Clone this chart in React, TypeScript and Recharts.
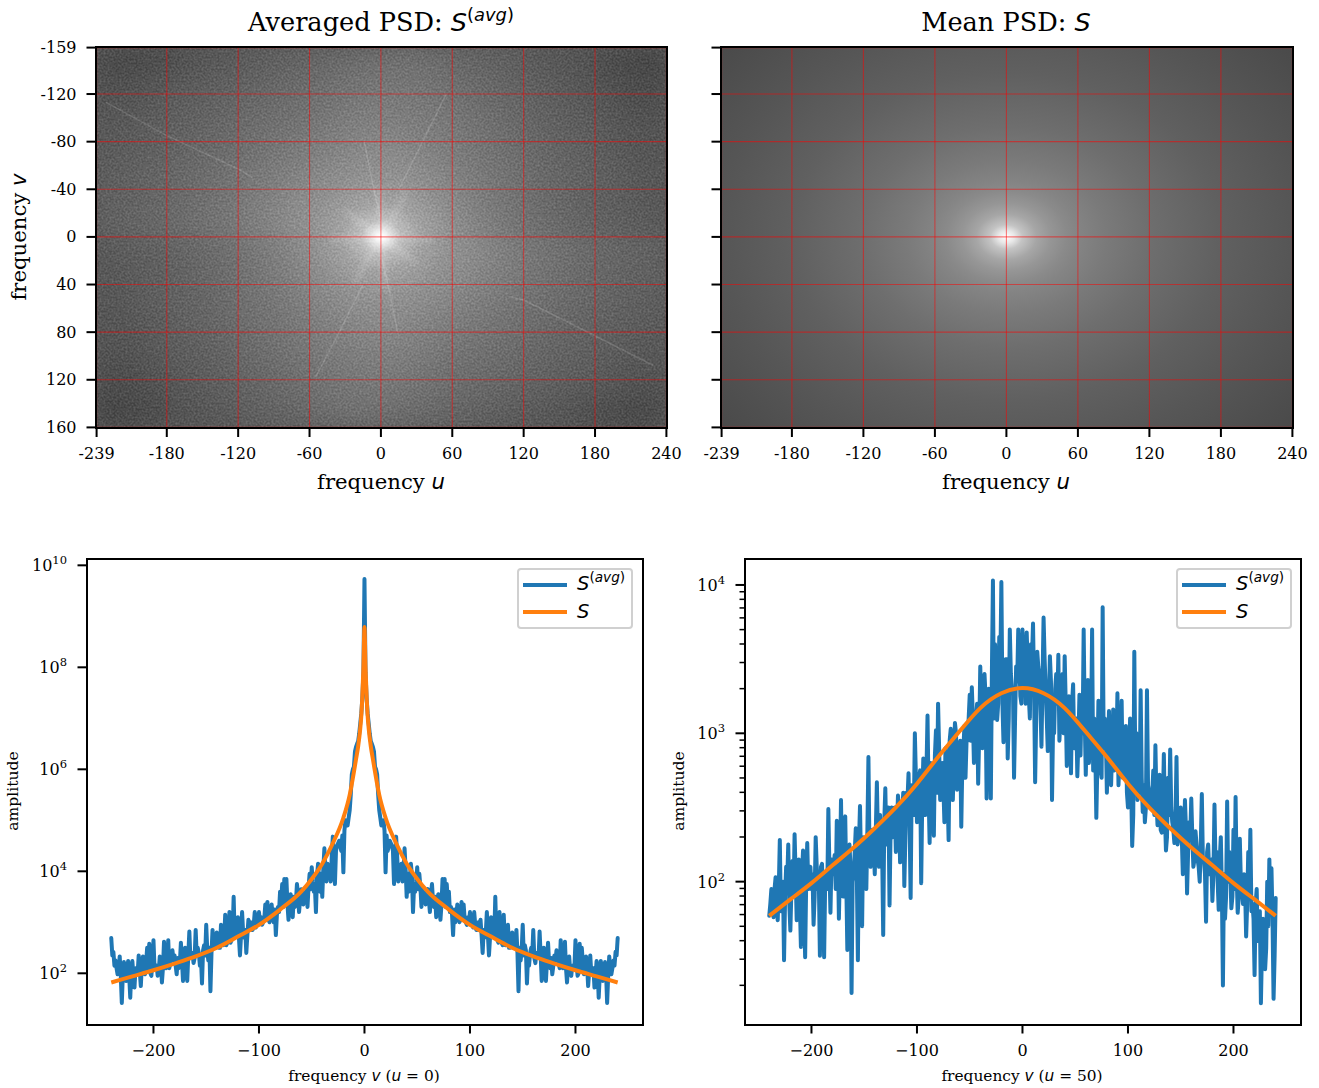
import React from 'react';
import {
  Legend,
  Line,
  LineChart,
  ReferenceArea,
  ReferenceLine,
  Scatter,
  ScatterChart,
  XAxis,
  YAxis,
} from 'recharts';

const SERIF = '"DejaVu Serif", serif';
const SANS = '"DejaVu Sans", sans-serif';
const BLUE = '#1f77b4';
const ORANGE = '#ff7f0e';

// top row: axis ticks of the two spectrum images
const uTicks = [-239, -180, -120, -60, 0, 60, 120, 180, 240];
const vTicks = [-159, -120, -80, -40, 0, 40, 80, 120, 160];

// coarse grey levels of the averaged PSD, upper half (the lower half is the point reflection)
const heatU = [-230, -210, -190, -170, -150, -130, -110, -90, -70, -50, -30, -10, 10, 30, 50, 70, 90, 110, 130, 150, 170, 190, 210, 230];
const heatV = [-150, -130, -110, -90, -70, -50, -30, -10];
const heatGrey = [
  [72, 70, 74, 78, 84, 88, 92, 96, 100, 104, 108, 112, 114, 114, 110, 104, 100, 96, 90, 86, 82, 76, 70, 66],
  [78, 80, 84, 88, 92, 96, 100, 104, 108, 112, 116, 120, 122, 120, 116, 110, 106, 100, 96, 90, 86, 80, 76, 72],
  [84, 86, 90, 94, 98, 102, 106, 110, 114, 118, 124, 128, 128, 126, 122, 116, 110, 106, 100, 94, 90, 86, 80, 78],
  [88, 90, 94, 98, 102, 106, 112, 116, 120, 126, 132, 136, 136, 132, 128, 122, 116, 110, 104, 98, 94, 90, 84, 82],
  [92, 94, 98, 102, 106, 112, 116, 122, 128, 134, 140, 146, 146, 140, 134, 126, 120, 114, 108, 102, 98, 92, 88, 84],
  [94, 98, 102, 106, 112, 116, 122, 130, 136, 144, 150, 154, 154, 150, 142, 132, 124, 118, 110, 104, 100, 96, 90, 86],
  [98, 100, 104, 108, 114, 120, 128, 136, 146, 152, 160, 166, 166, 160, 150, 138, 128, 120, 112, 106, 100, 96, 92, 88],
  [100, 102, 106, 110, 116, 122, 130, 140, 150, 158, 168, 176, 176, 168, 158, 144, 132, 122, 114, 108, 102, 98, 94, 90],
];

// faint streaks visible in the averaged PSD, as [u, v] pairs
const streaks = [
  [[-231, -113], [-180, -85], [-120, -57], [-108, -50]],
  [[108, 50], [120, 53], [180, 83], [229, 108]],
  [[55, -120], [35, -80], [15, -40]],
  [[-55, 118], [-35, 80], [-15, 40]],
  [[-14, -80], [-6, -40], [1, -10]],
  [[14, 80], [6, 40], [-1, 10]],
];
// brighter short rays around the centre
const rays = [
  [[-2, -42], [0, 0], [4, 46]],
  [[-42, 2], [0, 0], [44, 3]],
  [[22, -38], [0, 0], [-22, 38]],
  [[-30, -22], [0, 0], [30, 22]],
];

// radial grey profile of the mean PSD (and the small glow of the averaged one)
const meanRadius = [0, 0.02, 0.04, 0.075, 0.11, 0.15, 0.18, 0.25, 0.36, 0.535, 0.71, 0.94, 1];
const meanGrey = [255, 232, 196, 166, 150, 138, 132, 122, 110, 96, 86, 74, 72];
const meanCentre = [{ u: 0, v: 0 }];
const glowRadius = [0, 0.06, 0.14, 0.28, 0.56, 1];
const glowOpacity = [1, 0.9, 0.65, 0.28, 0.06, 0];

// bottom left, u = 0: log10 amplitude for v = -240, -238, ... -14
const rowAvgEven = [
  2.69, 2.42, 2.25, 1.98, 2.33, 1.42, 2.22, 1.85, 2.24, 1.52,
  2.24, 1.72, 2.05, 2.35, 1.75, 2.33, 1.98, 2.5, 2.58, 1.95,
  2.65, 2.1, 1.95, 2.33, 1.82, 2.62, 2.1, 2.65, 2.2, 2.45,
  2.35, 1.98, 2.1, 2.6, 1.85, 2.5, 1.85, 2.82, 2.4, 2.2,
  2.85, 2.5, 2.15, 1.8, 2.55, 2.95, 2.25, 1.65, 2.85, 2.5,
  2.8, 2.5, 2.95, 2.55, 3.15, 2.6, 3.2, 2.65, 3.5, 2.8,
  3.1, 2.35, 3.2, 2.7, 2.4, 3.05, 3.0, 2.85, 3.2, 2.95,
  3.2, 3.1, 3.0, 3.35, 3.4, 3.0, 3.35, 3.0, 2.75, 3.3,
  3.6, 3.75, 3.85, 3.85, 3.05, 3.55, 3.1, 3.3, 3.75, 3.2,
  3.65, 3.35, 3.5, 3.3, 3.95, 4.08, 3.6, 3.2, 4.15, 3.6,
  3.5, 4.45, 3.8, 4.0, 3.8, 4.68, 3.75, 4.5, 4.6, 4.4,
  3.98, 5.0, 4.9, 5.2,
];
// same slice at the odd frequencies v = -239, -237, ... -15
const rowAvgOdd = [
  2.35, 2.15, 2.1, 2.1, 1.95, 2.0, 1.95, 2.05, 1.95, 2.05,
  1.95, 2.1, 2.0, 2.05, 2.15, 2.05, 2.2, 2.1, 2.0, 2.2,
  2.1, 2.15, 2.05, 2.2, 2.1, 2.15, 2.2, 2.1, 2.3, 2.25,
  2.15, 2.3, 2.2, 2.25, 2.3, 2.15, 2.35, 2.3, 2.4, 2.3,
  2.35, 2.4, 2.3, 2.45, 2.35, 2.45, 2.5, 2.4, 2.55, 2.5,
  2.55, 2.5, 2.6, 2.65, 2.55, 2.7, 2.6, 2.75, 2.7, 2.8,
  2.7, 2.75, 2.8, 2.85, 2.75, 2.9, 2.85, 2.95, 2.9, 3.0,
  3.0, 2.95, 3.05, 3.1, 3.05, 3.15, 3.1, 3.25, 3.15, 3.2,
  3.4, 3.3, 3.4, 3.35, 3.3, 3.45, 3.5, 3.4, 3.55, 3.45,
  3.6, 3.5, 3.65, 3.7, 3.65, 3.8, 3.7, 3.9, 3.85, 3.95,
  4.05, 4.0, 4.15, 4.1, 4.3, 4.25, 4.4, 4.55, 4.5, 4.7,
  4.8, 4.95, 5.05,
];
const rowInnerFreq = [-13, -12, -11, -10, -9, -8, -7, -6, -5, -4, -3, -2, -1, 0];
const rowAvgInner = [5.5, 5.9, 6.0, 6.05, 6.35, 6.44, 6.5, 6.55, 6.7, 6.9, 7.1, 7.4, 7.9, 9.73];
const rowMeanFreq = [-240, -220, -200, -180, -160, -140, -120, -100, -80, -60, -50, -40, -30, -20, -14, -10, -8, -6, -4, -3, -2, -1, 0];
const rowMean = [1.82, 1.94, 2.06, 2.19, 2.33, 2.5, 2.72, 2.95, 3.25, 3.6, 3.85, 4.15, 4.55, 5.05, 5.5, 5.95, 6.2, 6.45, 6.8, 7.05, 7.45, 8.0, 8.79];

// bottom right, u = 50: log10 amplitude for v = -240, -238, ... 240
const sliceAvgEven = [
  1.77, 1.95, 1.76, 2.03, 1.74, 2.28, 1.8, 1.47, 2.1, 2.25,
  1.67, 2.14, 2.32, 1.74, 2.15, 1.56, 2.21, 1.49, 2.26, 2.08,
  1.95, 1.71, 2.3, 1.95, 1.5, 2.12, 1.49, 2.05, 2.49, 1.79,
  2.05, 2.18, 2.41, 1.75, 2.55, 1.9, 2.44, 1.54, 2.25, 1.25,
  2.05, 2.36, 1.47, 2.51, 1.7, 2.25, 1.95, 2.84, 2.1, 2.35,
  2.05, 2.67, 2.1, 2.3, 1.64, 2.63, 2.25, 1.84, 2.5, 2.45,
  2.2, 2.58, 2.13, 2.45, 1.97, 2.6, 2.73, 1.89, 2.55, 3.0,
  2.4, 2.7, 1.99, 2.83, 2.45, 3.12, 2.26, 2.75, 2.31, 3.02,
  3.2, 2.55, 2.8, 2.4, 2.74, 2.28, 3.03, 2.55, 3.07, 2.62,
  2.85, 2.37, 2.9, 2.7, 2.95, 3.26, 3.31, 2.8, 3.1, 2.66,
  3.45, 2.9, 3.4, 2.56, 3.3, 2.56, 4.03, 3.6, 3.09, 3.65,
  4.02, 2.94, 3.5, 2.83, 3.7, 3.3, 2.7, 3.45, 3.7, 3.25,
  3.7, 3.6, 3.68, 3.25, 3.6, 3.74, 2.67, 3.55, 3.4, 2.91,
  3.78, 3.3, 2.88, 3.52, 2.55, 3.0, 3.4, 3.53, 3.1, 3.4,
  3.52, 2.78, 3.25, 2.73, 3.33, 3.05, 2.71, 3.26, 3.2, 3.7,
  2.72, 3.36, 3.0, 3.7, 3.1, 2.43, 3.22, 2.76, 3.85, 3.1,
  2.6, 3.15, 2.65, 3.16, 2.8, 3.27, 2.85, 3.22, 2.7, 3.05,
  2.5, 3.1, 2.24, 3.55, 3.0, 2.85, 3.29, 2.47, 2.4, 3.29,
  2.6, 2.5, 2.75, 2.92, 2.38, 2.72, 2.33, 2.86, 2.21, 2.7,
  2.89, 2.4, 2.26, 2.84, 2.3, 2.5, 2.05, 2.55, 1.92, 2.4,
  2.56, 2.1, 2.34, 2.15, 2.0, 2.59, 2.15, 1.73, 2.25, 2.1,
  1.87, 2.52, 2.2, 1.81, 2.3, 1.3, 1.75, 2.54, 2.2, 1.82,
  2.35, 2.57, 1.79, 2.29, 1.95, 2.05, 1.63, 2.2, 2.35, 1.85,
  1.37, 1.95, 1.7, 1.18, 1.75, 1.41, 2.0, 2.15, 2.09, 1.21,
  1.89,
];
// same slice at the odd frequencies v = -239, -237, ... 239
const sliceAvgOdd = [
  1.85, 1.9, 1.95, 1.82, 1.95, 1.8, 2.0, 1.9, 2.0, 1.85,
  1.95, 1.9, 2.05, 1.95, 1.85, 2.05, 1.85, 2.0, 1.95, 2.1,
  2.05, 1.9, 2.1, 2.0, 2.1, 1.85, 2.0, 1.95, 2.1, 2.15,
  2.1, 1.95, 2.25, 2.1, 2.0, 2.25, 2.0, 2.2, 2.1, 2.0,
  2.2, 2.05, 2.25, 2.1, 2.3, 2.15, 2.35, 2.2, 2.3, 2.25,
  2.35, 2.3, 2.45, 2.2, 2.4, 2.25, 2.5, 2.35, 2.3, 2.5,
  2.35, 2.5, 2.4, 2.6, 2.3, 2.55, 2.4, 2.65, 2.45, 2.7,
  2.5, 2.75, 2.55, 2.6, 2.75, 2.6, 2.8, 2.55, 2.85, 2.6,
  2.9, 2.7, 2.65, 2.9, 2.6, 2.95, 2.7, 2.85, 3.0, 2.75,
  2.95, 2.8, 3.05, 2.95, 3.1, 2.95, 3.1, 3.0, 3.2, 3.0,
  3.15, 3.05, 3.25, 3.0, 3.2, 3.4, 3.1, 3.35, 3.2, 3.45,
  3.2, 3.35, 3.5, 3.1, 3.4, 3.3, 3.1, 3.35, 3.5, 3.2,
  3.45, 3.2, 3.45, 3.1, 3.5, 3.3, 3.1, 3.45, 3.2, 3.35,
  3.5, 3.1, 3.2, 3.35, 3.05, 3.3, 3.2, 2.95, 3.25, 3.0,
  3.2, 3.0, 3.05, 3.2, 2.9, 3.1, 2.95, 2.85, 3.0, 3.1,
  3.05, 2.8, 3.0, 2.75, 2.9, 2.8, 2.95, 2.7, 2.9, 3.0,
  2.85, 2.7, 2.9, 2.75, 2.85, 2.65, 2.8, 2.7, 2.75, 2.6,
  2.7, 2.65, 2.45, 2.75, 2.55, 2.6, 2.7, 2.65, 2.5, 2.65,
  2.5, 2.6, 2.45, 2.55, 2.5, 2.35, 2.5, 2.45, 2.3, 2.45,
  2.5, 2.35, 2.4, 2.25, 2.4, 2.3, 2.25, 2.35, 2.2, 2.3,
  2.3, 2.15, 2.25, 2.1, 2.25, 2.15, 2.05, 2.2, 2.05, 2.15,
  2.05, 2.1, 2.0, 2.15, 1.95, 2.05, 1.9, 2.0, 2.05, 1.9,
  1.95, 2.05, 1.9, 2.0, 1.85, 1.95, 1.85, 1.9, 1.8, 1.75,
  1.85, 1.6, 1.8, 1.55, 1.7, 1.55, 1.7, 1.85, 1.75, 1.5,
];
const sliceMeanFreq = [-240, -220, -200, -180, -160, -140, -120, -100, -80, -60, -40, -20, 0, 20, 40, 60, 80, 100, 120, 140, 160, 180, 200, 220, 240];
const sliceMean = [1.77, 1.88, 1.99, 2.11, 2.23, 2.36, 2.5, 2.66, 2.84, 3.01, 3.17, 3.27, 3.305, 3.27, 3.17, 3.01, 2.84, 2.66, 2.5, 2.36, 2.23, 2.11, 1.99, 1.88, 1.77];

const freqTicks = [-200, -100, 0, 100, 200];
const rowAmpTicks = [1e2, 1e4, 1e6, 1e8, 1e10];
const sliceAmpTicks = [
  20, 30, 40, 50, 60, 70, 80, 90, 100,
  200, 300, 400, 500, 600, 700, 800, 900, 1000,
  2000, 3000, 4000, 5000, 6000, 7000, 8000, 9000, 10000,
];

const toPoints = (freq: number[], logAmp: number[]) =>
  freq.map((v, i) => ({ v, amp: 10 ** logAmp[i] }));

// evens and odds back into one run starting at -240, one unit apart
const interleave = (even: number[], odd: number[]) =>
  even.flatMap((value, i) => (i < odd.length ? [value, odd[i]] : [value]));

const rowOuter = interleave(rowAvgEven, rowAvgOdd);
const halfFreq = [...rowOuter.map((_, i) => -240 + i), ...rowInnerFreq];
const halfAvg = [...rowOuter, ...rowAvgInner];
const rowAvgPoints = toPoints(
  [...halfFreq, ...halfFreq.slice(0, -1).reverse().map((v) => -v)],
  [...halfAvg, ...halfAvg.slice(0, -1).reverse()],
);
const rowMeanPoints = toPoints(
  [...rowMeanFreq, ...rowMeanFreq.slice(0, -1).reverse().map((v) => -v)],
  [...rowMean, ...rowMean.slice(0, -1).reverse()],
);
const sliceAvg = interleave(sliceAvgEven, sliceAvgOdd);
const sliceAvgPoints = toPoints(sliceAvg.map((_, i) => -240 + i), sliceAvg);
const sliceMeanPoints = toPoints(sliceMeanFreq, sliceMean);

const heatCells = heatGrey.flatMap((row, i) =>
  row.flatMap((grey, j) => [
    { u: heatU[j], v: heatV[i], grey },
    { u: -heatU[j], v: -heatV[i], grey },
  ]),
);

const AXIS_W = 70;
const TOP_PAD = 10;
const AXIS_H = 44;
const TICK_FONT = 16;

const HeatCell = (props: any) => {
  const { cx, cy, payload } = props;
  const g = payload.grey;
  return <rect x={cx - 13} y={cy - 13} width={26} height={26} fill={`rgb(${g},${g},${g})`} />;
};
const NoMark = () => <g />;

const GrainRect = (props: any) => (
  <rect x={props.x} y={props.y} width={props.width} height={props.height} filter="url(#psdGrain)" />
);

const BottomTick = (props: any) => {
  const { x, y, payload, minus } = props;
  const label = minus ? String(payload.value).replace('-', '\u2212') : String(payload.value);
  return (
    <g>
      <rect x={x - 1} y={y} width={2} height={9} fill="#000" />
      <text x={x} y={y + 31} textAnchor="middle" fontFamily={SERIF} fontSize={TICK_FONT} fill="#000">
        {label}
      </text>
    </g>
  );
};

const LeftTick = (props: any) => {
  const { x, y, payload, hideLabel } = props;
  return (
    <g>
      <rect x={x - 9.5} y={y - 1} width={9.5} height={2} fill="#000" />
      {!hideLabel && (
        <text x={x - 19.5} y={y + 5.5} textAnchor="end" fontFamily={SERIF} fontSize={TICK_FONT} fill="#000">
          {payload.value}
        </text>
      )}
    </g>
  );
};

const AmpTick = (props: any) => {
  const { x, y, payload } = props;
  const exponent = globalThis.Math.log10(payload.value);
  const major = globalThis.Number.isInteger(globalThis.Math.round(exponent * 1e6) / 1e6);
  return (
    <g>
      <rect x={x - (major ? 9.5 : 5.5)} y={y - (major ? 1 : 0.75)} width={major ? 9.5 : 5.5} height={major ? 2 : 1.5} fill="#000" />
      {major && (
        <text x={x - 20} y={y + 6} textAnchor="end" fontFamily={SERIF} fontSize={TICK_FONT} fill="#000">
          10
          <tspan dy={-7} fontSize={11.5}>{globalThis.Math.round(exponent)}</tspan>
        </text>
      )}
    </g>
  );
};

const Frame = ({ left, top, width, height }: any) => (
  <div
    style={{
      position: 'absolute',
      left: left - 1,
      top: top - 1,
      width: width + 2,
      height: height + 2,
      boxSizing: 'border-box',
      border: '2px solid #000',
      pointerEvents: 'none',
      zIndex: 5,
    }}
  />
);

const Caption = ({ x, y, size, rotate, children }: any) => (
  <div
    style={{
      position: 'absolute',
      left: x,
      top: y,
      transform: `translate(-50%, -50%)${rotate ? ' rotate(-90deg)' : ''}`,
      fontFamily: SERIF,
      fontSize: size,
      lineHeight: 1,
      whiteSpace: 'nowrap',
      color: '#000',
    }}
  >
    {children}
  </div>
);

const Math = ({ children }: any) => (
  <span style={{ fontFamily: SANS, fontStyle: 'italic' }}>{children}</span>
);

const SAvg = () => (
  <>
    <Math>S</Math>
    <span style={{ fontFamily: SANS, fontStyle: 'italic', fontSize: '0.7em', position: 'relative', top: '-0.55em' }}>
      <span style={{ fontStyle: 'normal' }}>(</span>avg<span style={{ fontStyle: 'normal' }}>)</span>
    </span>
  </>
);

const SpectrumPanel = ({ left, top, width, height, showLabels, children, defs }: any) => (
  <div style={{ position: 'absolute', left: left - AXIS_W, top: top - TOP_PAD }}>
    <ScatterChart
      width={width + AXIS_W + 20}
      height={height + TOP_PAD + AXIS_H}
      margin={{ top: TOP_PAD, right: 20, bottom: 0, left: 0 }}
    >
      <defs>{defs}</defs>
      <XAxis
        type="number"
        dataKey="u"
        domain={[-239.5, 240.5]}
        ticks={uTicks}
        interval={0}
        height={AXIS_H}
        axisLine={false}
        tickLine={false}
        tickSize={0}
        tickMargin={0}
        tick={<BottomTick />}
      />
      <YAxis
        type="number"
        dataKey="v"
        reversed
        domain={[-159.5, 160.5]}
        ticks={vTicks}
        interval={0}
        width={AXIS_W}
        axisLine={false}
        tickLine={false}
        tickSize={0}
        tickMargin={0}
        tick={<LeftTick hideLabel={!showLabels} />}
      />
      {children}
      {uTicks.map((u) => (
        <ReferenceLine key={`u${u}`} x={u} stroke="#ff0000" strokeOpacity={0.5} strokeWidth={1.1} zIndex={660} />
      ))}
      {vTicks.map((v) => (
        <ReferenceLine key={`v${v}`} y={v} stroke="#ff0000" strokeOpacity={0.5} strokeWidth={1.1} zIndex={660} />
      ))}
    </ScatterChart>
    <Frame left={AXIS_W} top={TOP_PAD} width={width} height={height} />
  </div>
);

const PsdLegend = () => (
  <div
    style={{
      width: 116,
      height: 61,
      boxSizing: 'border-box',
      border: '2px solid #d0d0d0',
      borderRadius: 4,
      background: 'rgba(255,255,255,0.8)',
      position: 'relative',
      fontFamily: SANS,
      fontSize: 19.5,
      color: '#000',
    }}
  >
    <div style={{ position: 'absolute', left: 4, top: 13, width: 44, height: 4, background: BLUE }} />
    <div style={{ position: 'absolute', left: 4, top: 40, width: 44, height: 4, background: ORANGE }} />
    <div style={{ position: 'absolute', left: 58, top: -1, lineHeight: '30px', whiteSpace: 'nowrap' }}>
      <SAvg />
    </div>
    <div style={{ position: 'absolute', left: 58, top: 27, lineHeight: '30px' }}>
      <Math>S</Math>
    </div>
  </div>
);

const AmplitudePanel = ({ left, width, logDomain, ticks, avg, mean, meanCurve, legendLeft }: any) => {
  const top = 559;
  const height = 465.5;
  return (
    <div style={{ position: 'absolute', left: left - AXIS_W, top: top - TOP_PAD }}>
      <LineChart
        width={width + AXIS_W + 16}
        height={height + TOP_PAD + AXIS_H}
        margin={{ top: TOP_PAD, right: 16, bottom: 0, left: 0 }}
      >
        <XAxis
          type="number"
          dataKey="v"
          domain={[-263, 264]}
          ticks={freqTicks}
          interval={0}
          height={AXIS_H}
          allowDuplicatedCategory={false}
          axisLine={false}
          tickLine={false}
          tickSize={0}
          tickMargin={0}
          tick={<BottomTick minus />}
        />
        <YAxis
          type="number"
          scale="log"
          dataKey="amp"
          domain={[10 ** logDomain[0], 10 ** logDomain[1]]}
          allowDataOverflow
          ticks={ticks}
          interval={0}
          width={AXIS_W}
          axisLine={false}
          tickLine={false}
          tickSize={0}
          tickMargin={0}
          tick={<AmpTick />}
        />
        <Line data={avg} dataKey="amp" stroke={BLUE} strokeWidth={4} dot={false} type="linear" isAnimationActive={false} strokeLinejoin="round" strokeLinecap="round" />
        <Line data={mean} dataKey="amp" stroke={ORANGE} strokeWidth={4} dot={false} type={meanCurve} isAnimationActive={false} />
        <Legend
          layout="horizontal"
          verticalAlign="middle"
          align="center"
          content={<PsdLegend />}
          wrapperStyle={{ position: 'absolute', left: legendLeft, top: 8.5 + TOP_PAD, width: 116 }}
        />
      </LineChart>
      <Frame left={AXIS_W} top={TOP_PAD} width={width} height={height} />
    </div>
  );
};

const App = () => {
  const meanDefs = (
    <radialGradient
      id="meanPsd"
      cx={239.5 / 480}
      cy={159.5 / 320}
      r={0.7}
      gradientTransform="translate(0.499 0.498) scale(1 1.15) translate(-0.499 -0.498)"
    >
      {meanRadius.map((t, i) => (
        <stop key={t} offset={t} stopColor={`rgb(${meanGrey[i]},${meanGrey[i]},${meanGrey[i]})`} />
      ))}
    </radialGradient>
  );
  const avgDefs = (
    <>
      <radialGradient id="avgGlow" cx={0.5} cy={0.5} r={0.5}>
        {glowRadius.map((t, i) => (
          <stop key={t} offset={t} stopColor="#fff" stopOpacity={glowOpacity[i]} />
        ))}
      </radialGradient>
      <filter id="cellBlur" filterUnits="userSpaceOnUse" x={AXIS_W} y={TOP_PAD} width={571} height={381}>
        <feGaussianBlur stdDeviation={11} />
      </filter>
      <filter id="rayBlur" filterUnits="userSpaceOnUse" x={AXIS_W} y={TOP_PAD} width={571} height={381}>
        <feGaussianBlur stdDeviation={2} />
      </filter>
      <filter id="psdGrain" x="0" y="0" width="100%" height="100%" colorInterpolationFilters="sRGB">
        <feTurbulence type="fractalNoise" baseFrequency="0.5" numOctaves="2" seed="7" />
        <feColorMatrix values="1.8 0 0 0 -0.55  1.8 0 0 0 -0.55  1.8 0 0 0 -0.55  0 0 0 0 0.13" />
      </filter>
    </>
  );

  return (
    <div style={{ position: 'absolute', left: 0, top: 0, width: 1319, height: 1088, background: '#fff', overflow: 'hidden' }}>
      <style>{'.heat-cells{filter:url(#cellBlur)} .heat-rays{filter:url(#rayBlur)}'}</style>

      <Caption x={381} y={23} size={25.6}>Averaged PSD: <SAvg /></Caption>
      <Caption x={1006} y={23} size={25.6}>Mean PSD: <Math>S</Math></Caption>

      <SpectrumPanel left={96} top={47} width={571} height={381} showLabels defs={avgDefs}>
        <ReferenceArea x1={-239.5} x2={240.5} y1={-159.5} y2={160.5} fill="#585858" fillOpacity={1} zIndex={610} />
        <Scatter data={heatCells} shape={HeatCell} className="heat-cells" isAnimationActive={false} zIndex={620} />
        <ReferenceArea x1={-239.5} x2={240.5} y1={-159.5} y2={160.5} shape={GrainRect} zIndex={625} />
        {streaks.map((points, i) => (
          <Scatter
            key={i}
            data={points.map(([u, v]) => ({ u, v }))}
            shape={NoMark}
            line={{ stroke: '#fff', strokeOpacity: 0.14, strokeWidth: 1.5 }}
            isAnimationActive={false}
            zIndex={630}
          />
        ))}
        {rays.map((points, i) => (
          <Scatter
            key={`ray${i}`}
            data={points.map(([u, v]) => ({ u, v }))}
            shape={NoMark}
            className="heat-rays"
            line={{ stroke: '#fff', strokeOpacity: 0.28, strokeWidth: 3 }}
            isAnimationActive={false}
            zIndex={635}
          />
        ))}
        <ReferenceArea x1={-60} x2={60} y1={-50} y2={50} fill="url(#avgGlow)" fillOpacity={1} zIndex={640} />
      </SpectrumPanel>

      <SpectrumPanel left={721} top={47} width={572} height={381} defs={meanDefs}>
        <ReferenceArea x1={-239.5} x2={240.5} y1={-159.5} y2={160.5} fill="url(#meanPsd)" fillOpacity={1} zIndex={610} />
        <Scatter data={meanCentre} shape={NoMark} isAnimationActive={false} />
      </SpectrumPanel>

      <Caption x={381} y={482} size={21.2}>frequency <Math>u</Math></Caption>
      <Caption x={1006} y={482} size={21.2}>frequency <Math>u</Math></Caption>
      <Caption x={19} y={237} size={21.2} rotate>frequency <Math>v</Math></Caption>

      <AmplitudePanel
        left={86.5}
        width={556}
        logDomain={[0.996, 10.124]}
        ticks={rowAmpTicks}
        avg={rowAvgPoints}
        mean={rowMeanPoints}
        meanCurve="monotone"
        legendLeft={500.5}
      />
      <AmplitudePanel
        left={745}
        width={556}
        logDomain={[1.037, 4.175]}
        ticks={sliceAmpTicks}
        avg={sliceAvgPoints}
        mean={sliceMeanPoints}
        meanCurve="natural"
        legendLeft={501}
      />

      <Caption x={14} y={791} size={15.6} rotate>amplitude</Caption>
      <Caption x={680} y={791} size={15.6} rotate>amplitude</Caption>
      <Caption x={364} y={1077} size={15.4}>frequency <Math>v</Math> (<Math>u</Math> = 0)</Caption>
      <Caption x={1022} y={1077} size={15.4}>frequency <Math>v</Math> (<Math>u</Math> = 50)</Caption>
    </div>
  );
};

export default App;
